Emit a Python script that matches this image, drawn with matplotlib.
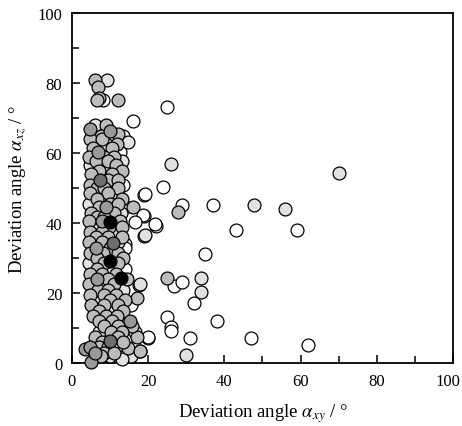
import matplotlib.pyplot as plt
from matplotlib.ticker import MultipleLocator, FuncFormatter

# --- data (x = alpha_xy, y = alpha_xz, degrees) ---
white_x = [59.0, 62.0, 24.9, 23.8, 18.9, 28.8, 36.9, 18.9, 22.0, 43.0, 34.9,
           26.8, 29.0, 31.9, 24.9, 25.9, 25.9, 38.0, 20.0, 31.0, 47.0, 15.9, 19.2,
           18.7, 16.5, 21.8, 13.9, 20.0, 8.2, 13.5, 12.5, 13.5, 14.0, 14.0, 14.0,
           14.5, 15.5, 12.5]
white_y = [38.0, 5.1, 73.1, 50.3, 48.0, 45.1, 45.1, 42.1, 39.2, 38.1, 31.1,
           22.1, 23.2, 17.1, 13.2, 10.2, 9.2, 12.1, 7.1, 7.1, 7.1, 69.2, 48.3,
           42.3, 40.2, 39.6, 34.0, 7.3, 75.1, 65.0, 60.4, 51.0, 44.5, 33.0, 27.0,
           7.5, 16.5, 4.6]

light_x = [70.2, 55.9, 26.0, 47.9, 18.9, 17.5, 33.9, 33.9, 29.9, 14.8, 19.2, 17.8,
           13.0, 12.9, 9.1, 6.0, 9.0, 13.0, 4.8, 9.5, 10.5, 11.8, 8.2, 4.5,
           12.8, 6.0, 11.5, 12.2, 11.5, 4.5, 10.0, 8.0, 13.5, 6.5, 10.5, 13.0,
           7.0, 16.5, 11.2, 10.0, 15.5, 13.0]
light_y = [54.3, 44.0, 57.0, 45.1, 36.2, 22.3, 20.2, 24.2, 2.3, 63.2, 36.5, 22.6,
           17.3, 1.7, 81.0, 68.0, 62.5, 57.7, 56.5, 55.0, 51.0, 48.5, 47.0, 45.5,
           43.0, 39.0, 37.5, 34.5, 30.0, 28.5, 27.0, 22.5, 21.0, 18.0, 15.0, 12.0,
           9.0, 9.0, 6.0, 2.0, 2.0, 1.1]

mid_x = [27.9, 24.9, 15.9, 17.0, 17.0, 17.8, 14.8, 6.0, 6.9, 7.2, 6.5, 12.2,
         8.9, 12.2, 7.5, 4.7, 7.8, 11.8, 5.6, 10.4, 4.5, 8.5, 11.0, 6.2, 9.5,
         11.5, 7.0, 13.0, 5.0, 10.5, 9.5, 12.0, 4.6, 6.5, 8.5, 12.0, 4.8, 9.5,
         6.5, 13.0, 10.0, 12.0, 7.0, 5.0, 11.0, 6.5, 8.5, 4.5, 12.5, 9.8, 13.0,
         4.7, 7.8, 6.3, 9.5, 13.2, 4.5, 8.0, 10.0, 4.8, 8.2, 12.0, 6.5, 13.5,
         8.5, 12.0, 6.5, 4.7, 8.0, 11.5, 9.5, 14.5, 4.5, 11.0, 6.8, 9.5, 4.8,
         8.3, 11.5, 10.0, 13.8, 5.0, 8.5, 12.0, 7.0, 13.5, 5.5, 9.0, 11.8, 7.2,
         10.5, 8.5, 12.0, 15.8, 10.2, 13.2, 6.0, 12.0, 8.0, 13.5, 7.0, 9.5,
         8.5, 11.0, 7.5, 17.8]
mid_y = [43.2, 24.2, 44.5, 18.5, 7.5, 3.5, 4.2, 81.0, 78.8, 75.6, 75.1, 75.1,
         68.0, 65.4, 65.0, 64.0, 64.0, 62.5, 61.5, 61.5, 59.0, 59.0, 59.0, 57.7,
         57.7, 56.5, 55.0, 55.0, 54.0, 54.0, 52.3, 52.3, 51.0, 50.0, 50.0, 50.0,
         48.5, 48.5, 47.0, 47.0, 45.5, 45.5, 44.5, 43.0, 43.0, 41.7, 41.7, 40.5,
         40.5, 39.0, 39.0, 37.5, 37.5, 36.0, 36.0, 36.0, 34.5, 34.5, 33.0, 31.5,
         31.5, 31.5, 30.0, 30.0, 28.5, 28.5, 27.0, 25.5, 25.5, 25.5, 24.0, 24.0,
         22.5, 22.5, 21.0, 21.0, 19.5, 19.5, 19.5, 18.0, 18.0, 16.5, 16.5, 16.5,
         15.0, 15.0, 13.5, 13.5, 13.5, 12.0, 12.0, 10.5, 10.5, 10.5, 9.0, 9.0,
         7.5, 7.5, 6.0, 6.0, 4.6, 4.6, 3.0, 3.0, 2.0, 3.5]

dark_x = [15.2, 4.9, 3.4, 4.7, 4.7, 10.0, 6.9, 9.0, 8.0, 6.3, 6.5, 6.0]
dark_y = [12.1, 0.3, 4.0, 4.6, 67.0, 66.4, 60.4, 44.5, 40.5, 33.0, 24.0, 3.0]

darker_x = [7.3, 10.8, 10.0]
darker_y = [52.3, 34.2, 6.4]

black_x = [10.0, 10.0, 12.9]
black_y = [40.2, 29.2, 24.3]

# --- style ---
plt.rcParams['font.family'] = ['Liberation Serif', 'DejaVu Serif']
plt.rcParams['mathtext.fontset'] = 'stix'

fig = plt.figure(figsize=(4.62, 4.27), dpi=100)
ax = fig.add_axes([0.1558, 0.1475, 0.8247, 0.8197])

groups = [
    (white_x, white_y, 'white'),
    (light_x, light_y, '#e2e2e2'),
    (mid_x, mid_y, '#bcbcbc'),
    (dark_x, dark_y, '#999999'),
    (darker_x, darker_y, '#6e6e6e'),
    (black_x, black_y, 'black'),
]
for gx, gy, col in groups:
    ax.scatter(gx, gy, s=86, facecolor=col, edgecolor='black',
               linewidth=0.9, clip_on=False, zorder=3)

ax.set_xlim(0, 100)
ax.set_ylim(0, 100)
ax.xaxis.set_major_locator(MultipleLocator(20))
ax.xaxis.set_minor_locator(MultipleLocator(10))
ax.yaxis.set_major_locator(MultipleLocator(20))
ax.yaxis.set_minor_locator(MultipleLocator(10))
# last x label ("100") is drawn separately, shifted a bit left so it fits
ax.xaxis.set_major_formatter(FuncFormatter(lambda v, p: '' if v >= 100 else f'{v:.0f}'))
ax.tick_params(which='both', direction='in', top=False, right=False,
               labelsize=12, width=1.1)
ax.tick_params(which='major', length=6, pad=7)
ax.tick_params(which='minor', length=5)
for sp in ax.spines.values():
    sp.set_linewidth(1.3)

ax.annotate('100', xy=(100, 0), xycoords=('data', 'axes fraction'),
            xytext=(-4, -7), textcoords='offset points',
            ha='center', va='top', fontsize=12)

ax.set_xlabel(r'Deviation angle $\alpha_{xy}$ / °', fontsize=13.5, labelpad=9)
ax.set_ylabel(r'Deviation angle $\alpha_{xz}$ / °', fontsize=13.5, labelpad=6)

plt.savefig('out.png', dpi=100)
